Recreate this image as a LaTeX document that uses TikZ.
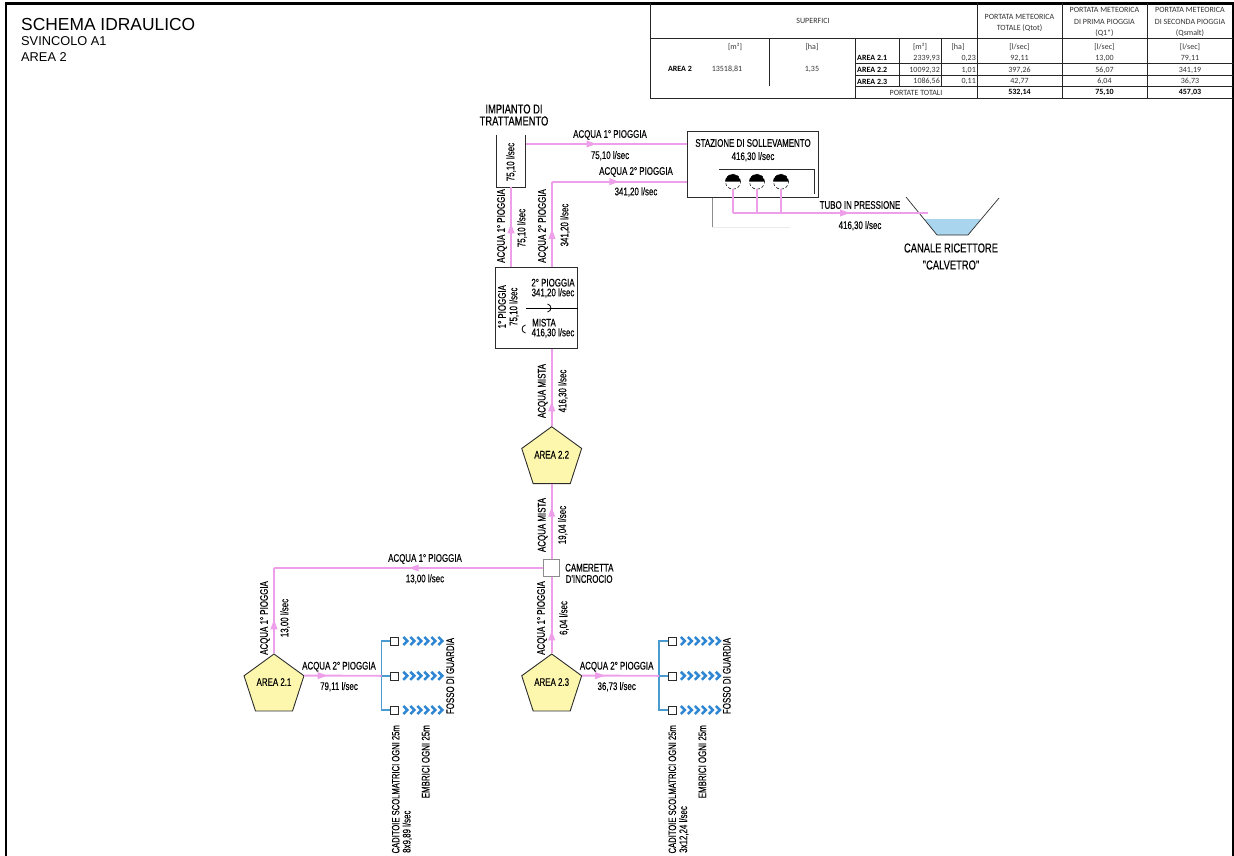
\documentclass[tikz,border=0pt]{standalone}
\usepackage{fontspec}
\setmainfont{Liberation Sans}
\newfontfamily\narrowfont[FakeStretch=0.72,FakeBold=0.15]{Liberation Sans}
\newfontfamily\tabfont{Carlito}
\usetikzlibrary{arrows.meta,decorations.markings,shapes.geometric}
\definecolor{rosa}{HTML}{EE9FEA}
\definecolor{giallo}{HTML}{FDF7AE}
\definecolor{azzurro}{HTML}{4A9BD0}
\definecolor{acqua}{HTML}{A9D5EE}
\definecolor{bordo}{HTML}{2C2C2C}
\definecolor{chevblu}{HTML}{2F86D2}
\tikzset{
	lab/.style={font=\narrowfont\fontsize{11}{12}\selectfont, inner sep=0pt, text=black},
	vlab/.style={lab, rotate=90},
	big/.style={font=\narrowfont\fontsize{13}{14}\selectfont, inner sep=0pt, text=black},
	tub/.style={draw=rosa, line width=1.9pt},
	flow/.style={tub, postaction=decorate, decoration={markings, mark=at position #1 with {\arrow{Triangle[length=10pt,width=6.5pt,fill=rosa,color=rosa]}}}},
	blu/.style={draw=azzurro, line width=1.5pt},
	chev/.style={draw=chevblu, line width=2.5pt},
	area/.style={draw=bordo, line width=0.9pt, fill=giallo, regular polygon, regular polygon sides=5, minimum size=63pt, inner sep=0pt, text depth=7pt, font=\narrowfont\fontsize{11}{12}\selectfont},
	scatola/.style={draw=bordo, line width=0.8pt, fill=white, inner sep=0pt},
	cad/.style={draw=bordo, line width=0.6pt, fill=white, minimum size=8pt, inner sep=0pt},
	pump/.style={circle, draw=black, dashed, dash pattern=on 3pt off 2pt, line width=0.5pt, minimum size=15pt, inner sep=0pt},
	tab/.style={font=\tabfont\fontsize{8}{9}\selectfont, inner sep=0pt, text=black!80},
	tabb/.style={tab, font=\tabfont\bfseries\fontsize{8}{9}\selectfont, text=black},
	riga/.style={draw=black!85, line width=0.8pt}
}
\begin{document}
\begin{tikzpicture}[x=1pt, y=-1pt]
	\useasboundingbox (0,0) rectangle (1234,856);
	\draw[line width=2.2pt] (6,856) -- (6,3.5) -- (1233,3.5) -- (1233,856);
	%titolo
	\node[anchor=west, inner sep=0pt, font=\fontsize{17.4}{18}\selectfont] (titolo) at (21,25) {SCHEMA IDRAULICO};
	\node[anchor=west, inner sep=0pt, font=\fontsize{12.8}{14}\selectfont] (svincolo) at (21,41) {SVINCOLO A1};
	\node[anchor=west, inner sep=0pt, font=\fontsize{12.8}{14}\selectfont] (area2) at (21,57) {AREA 2};
	%tabella
	\draw[riga] (650,3.5) -- (650,98) -- (1233,98);
	\draw[riga] (650,38) -- (1233,38);
	\draw[riga] (855,63) -- (1233,63);
	\draw[riga] (855,75) -- (1233,75);
	\draw[riga] (855,86) -- (1233,86);
	\draw[riga] (769.5,38) -- (769.5,86);
	\draw[riga] (855,38) -- (855,98);
	\draw[riga] (899,38) -- (899,86);
	\draw[riga] (941,38) -- (941,86);
	\draw[riga] (977,3.5) -- (977,98);
	\draw[riga] (1062,3.5) -- (1062,98);
	\draw[riga] (1147.5,3.5) -- (1147.5,98);
	\node[tab] (superfici) at (813,21) {SUPERFICI};
	\node[tab] (qtot1) at (1019.5,16.5) {PORTATA METEORICA};
	\node[tab] (qtot2) at (1019.5,28) {TOTALE (Qtot)};
	\node[tab] (qa1) at (1104.5,10) {PORTATA METEORICA};
	\node[tab] (qa2) at (1104.5,21.5) {DI PRIMA PIOGGIA};
	\node[tab] (qa3) at (1104.5,33) {(Q1*)};
	\node[tab] (qb1) at (1190,10) {PORTATA METEORICA};
	\node[tab] (qb2) at (1190,21.5) {DI SECONDA PIOGGIA};
	\node[tab] (qb3) at (1190,33) {(Qsmalt)};
	\node[tab] (mqtot) at (735,47) {[m²]};
	\node[tab] (hatot) at (812,47) {[ha]};
	\node[tabb] (area2tab) at (680,69) {AREA 2};
	\node[tab] (mqval) at (727,69) {13518,81};
	\node[tab] (haval) at (812,69) {1,35};
	\node[tab] (mqpar) at (920,47) {[m²]};
	\node[tab] (hapar) at (958,47) {[ha]};
	\node[tab] (uq1) at (1019.5,47) {[l/sec]};
	\node[tab] (uq2) at (1104.5,47) {[l/sec]};
	\node[tab] (uq3) at (1190,47) {[l/sec]};
	\foreach \n/\y/\nome/\mq/\ha/\qt/\qa/\qb in {
		1/58/{AREA 2.1}/{2339,93}/{0,23}/{92,11}/{13,00}/{79,11},
		2/70/{AREA 2.2}/{10092,32}/{1,01}/{397,26}/{56,07}/{341,19},
		3/81.5/{AREA 2.3}/{1086,56}/{0,11}/{42,77}/{6,04}/{36,73}} {
		\node[tabb, anchor=west] (nome\n) at (857,\y) {\nome};
		\node[tab, anchor=east] (mq\n) at (940,\y) {\mq};
		\node[tab, anchor=east] (ha\n) at (976,\y) {\ha};
		\node[tab] (qt\n) at (1019.5,\y) {\qt};
		\node[tab] (qa\n) at (1104.5,\y) {\qa};
		\node[tab] (qb\n) at (1190,\y) {\qb};
	}
	\node[tab] (totali) at (916,92.5) {PORTATE TOTALI};
	\node[tabb] (qttot) at (1019.5,92.5) {532,14};
	\node[tabb] (qatot) at (1104.5,92.5) {75,10};
	\node[tabb] (qbtot) at (1190,92.5) {457,03};
	%scatole
	\node[minimum width=29pt, minimum height=52pt, inner sep=0pt] (tratt) at (511,161) {};
	\node[scatola, minimum width=131pt, minimum height=66pt] (staz) at (752.5,164.5) {};
	\node[scatola, minimum width=81.5pt, minimum height=80.5pt] (mix) at (536.5,308) {};
	\node[area] (a22) at (551.7,458.2) {AREA 2.2};
	\node[area] (a21) at (274,685.5) {AREA 2.1};
	\node[area] (a23) at (551.7,685.5) {AREA 2.3};
	\node[draw=black!45, fill=white, line width=0.6pt, minimum width=16pt, minimum height=16.5pt, inner sep=0pt] (cam) at (551.7,568) {};
	\draw[draw=bordo, line width=0.8pt] (tratt.north west) -- (tratt.south west) -- (tratt.south east) -- (tratt.north east);
	\foreach \i/\px in {1/733,2/757,3/781} {
		\node[pump] (pump\i) at (\px,181.7) {};
		\fill (pump\i.west) arc[start angle=180, end angle=0, radius=7.5pt] -- cycle;
	}
	\draw[draw=bordo, line width=0.8pt] (719,169) -- (814,169) -- (814,194);
	\draw[black!45, line width=0.5pt] (712,197.5) -- (712,227);
	\draw[black!8, line width=0.5pt] (712,227) -- (790,227);
	%canale
	\coordinate (acqsx) at (924,219);
	\coordinate (acqdx) at (981,219);
	\coordinate (ricsx) at (906,197);
	\coordinate (ricdx) at (999,198);
	\fill[acqua] (acqsx) -- (937,235) -- (968,235) -- (acqdx) -- cycle;
	\draw[bordo, line width=0.7pt] (ricsx) -- (937,235) -- (968,235) -- (ricdx);
	%tubi
	\coordinate (angA) at (552,181.7);
	\coordinate (angB) at (274,568);
	\coordinate (fine) at (928,213);
	\draw[flow=0.44] (tratt.east |- 0,144) -- (staz.west |- 0,144);
	\draw[flow=0.5] (angA) -- (staz.west |- angA);
	\draw[flow=0.45] (mix.north -| angA) -- (angA);
	\draw[flow=0.55] (mix.north -| tratt) -- (tratt.south);
	\draw[flow=0.32] (a22.corner 1) -- (mix.south -| a22.corner 1);
	\draw[flow=0.7] (cam.north) -- (a22.corner 3 -| cam.north);
	\draw[flow=0.5] (cam.west) -- (angB);
	\draw[flow=0.4] (a21.corner 1) -- (angB);
	\draw[flow=0.3] (a23.corner 1) -- (cam.south);
	\foreach \i in {1,2,3} {
		\draw[tub] (pump\i.south) -- (pump\i.south |- fine);
	}
	\draw[flow=0.6] (pump1.south |- fine) -- (fine);
	%fossi
	\foreach \f/\fx in {1/394.5,2/672} {
		\node[cad] (cad\f a) at (\fx,641) {};
		\node[cad] (cad\f b) at (\fx,675.8) {};
		\node[cad] (cad\f c) at (\fx,710) {};
		\foreach \r in {a,b,c} {
			\foreach \k in {0,...,5} {
				\draw[chev, shift={(cad\f \r.east)}] (4.5+7*\k,-4) -- (8.5+7*\k,0) -- (4.5+7*\k,4);
			}
		}
	}
	\coordinate (nodo1) at (381.7,675.8);
	\coordinate (nodo2) at (659,675.8);
	\foreach \f in {1,2} {
		\draw[blu] (cad\f a.west) -| (nodo\f) |- (cad\f c.west);
		\draw[blu] (nodo\f) -- (cad\f b.west);
	}
	\draw[flow=0.3] (a21.corner 5) -- (nodo1);
	\draw[flow=0.3] (a23.corner 5) -- (nodo2);
	%decorazioni
	\node[big] (impianto) at (514,109) {IMPIANTO DI};
	\node[big] (trattam) at (514,121) {TRATTAMENTO};
	\node[big] (canale) at (951,248) {CANALE RICETTORE};
	\node[big] (calvetro) at (951,265) {"CALVETRO"};
	\node[lab] (l1) at (610,135) {ACQUA 1° PIOGGIA};
	\node[lab] (l2) at (610,155.7) {75,10 l/sec};
	\node[lab] (l3) at (636,172) {ACQUA 2° PIOGGIA};
	\node[lab] (l4) at (636,192) {341,20 l/sec};
	\node[vlab] (l5) at (511,162) {75,10 l/sec};
	\node[vlab] (l6) at (502,226) {ACQUA 1° PIOGGIA};
	\node[vlab] (l7) at (522,228) {75,10 l/sec};
	\node[vlab] (l8) at (543,226) {ACQUA 2° PIOGGIA};
	\node[vlab] (l9) at (565,225) {341,20 l/sec};
	\node[lab] (l10) at (753,143) {STAZIONE DI SOLLEVAMENTO};
	\node[lab] (l11) at (753,156.7) {416,30 l/sec};
	\node[lab] (l12) at (860,205) {TUBO IN PRESSIONE};
	\node[lab] (l13) at (860,225.7) {416,30 l/sec};
	\node[lab] (l14) at (553,282.7) {2° PIOGGIA};
	\node[lab] (l15) at (553,293) {341,20 l/sec};
	\node[lab] (l16) at (544,322.7) {MISTA};
	\node[lab] (l17) at (553,333) {416,30 l/sec};
	\node[vlab] (l18) at (502,306.7) {1° PIOGGIA};
	\node[vlab] (l19) at (514,306.7) {75,10 l/sec};
	\node[vlab] (l20) at (542.7,391) {ACQUA MISTA};
	\node[vlab] (l21) at (563,391) {416,30 l/sec};
	\node[vlab] (l22) at (542.7,525) {ACQUA MISTA};
	\node[vlab] (l23) at (562.7,525) {19,04 l/sec};
	\node[lab, anchor=west] (l24) at (565,567.7) {CAMERETTA};
	\node[lab, anchor=west] (l25) at (565.5,579) {D'INCROCIO};
	\node[lab] (l26) at (425,559) {ACQUA 1° PIOGGIA};
	\node[lab] (l27) at (425,579) {13,00 l/sec};
	\node[vlab] (l28) at (265,618) {ACQUA 1° PIOGGIA};
	\node[vlab] (l29) at (285,618) {13,00 l/sec};
	\node[lab] (l30) at (339,666.7) {ACQUA 2° PIOGGIA};
	\node[lab] (l31) at (339,686.7) {79,11 l/sec};
	\node[vlab] (l32) at (542,618) {ACQUA 1° PIOGGIA};
	\node[vlab] (l33) at (564,618) {6,04 l/sec};
	\node[lab] (l34) at (616.7,666.7) {ACQUA 2° PIOGGIA};
	\node[lab] (l35) at (616.7,686.7) {36,73 l/sec};
	\foreach \f/\fx/\portata in {1/395.7/{8x9,89 l/sec},2/672.3/{3x12,24 l/sec}} {
		\node[vlab, anchor=east, font=\narrowfont\fontsize{10.6}{12}\selectfont] (cadtxt\f) at (\fx,725) {CADITOIE SCOLMATRICI OGNI 25m};
		\node[vlab, anchor=west] (cadq\f) at (\fx+11.5,853) {\portata};
		\node[vlab, anchor=east] (emb\f) at (\fx+30,725) {EMBRICI OGNI 25m};
		\node[vlab] (fosso\f) at (\fx+54.5,676) {FOSSO DI GUARDIA};
	}
	%ganci
	\draw[line width=0.9pt] (526,308) -- (mix.east |- 0,308);
	\draw[line width=0.8pt] (547.5,304) .. controls (552,305) and (552,311) .. (547.5,312);
	\draw[line width=0.8pt] (525.5,325) .. controls (521,326) and (521,332) .. (525.5,333);
\end{tikzpicture}
\end{document}
